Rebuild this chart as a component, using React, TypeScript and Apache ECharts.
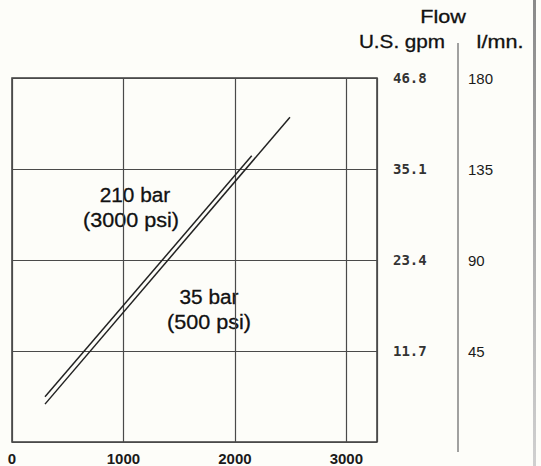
import React, { useEffect, useRef } from "react";
import * as echarts from "echarts";

// Pump speed (rpm) axis ticks
const speedTicks = [0, 1000, 2000, 3000];
const speedMax = 3275;
// Flow axes
const gpmTicks = [0, 11.7, 23.4, 35.1, 46.8];
const lpmTicks = [0, 45, 90, 135, 180];
// Curves [rpm, U.S. gpm]
const curve210 = [
  [296, 5.81],
  [2151, 36.8],
];
const curve35 = [
  [296, 4.87],
  [2494, 41.76],
];
const label210 = ["210 bar", "(3000 psi)"];
const label35 = ["35 bar", "(500 psi)"];
const headers = ["Flow", "U.S. gpm", "l/mn."];

const sans = "'Liberation Sans', Arial, sans-serif";
const mono = "'DejaVu Sans Mono', monospace";

function txt(text: string, x: number, y: number, size: number, sx: number, weight = "normal") {
  return {
    type: "text",
    x,
    y,
    scaleX: sx,
    silent: true,
    style: {
      text,
      x: 0,
      y: 0,
      align: "center",
      verticalAlign: "middle",
      fontSize: size,
      fontFamily: sans,
      fontWeight: weight,
      fill: "#111",
      stroke: "#111",
      lineWidth: 0.3,
    },
  };
}

export default function App() {
  const ref = useRef<HTMLDivElement>(null);
  useEffect(() => {
    document.body.style.margin = "0";
    if (!ref.current) return;
    const chart = echarts.init(ref.current, undefined, { renderer: "svg" });
    const option: any = {
      animation: false,
      backgroundColor: "#fdfdf9",
      grid: {
        show: true,
        left: 12,
        top: 78,
        right: 164,
        bottom: 23,
        borderColor: "#3a3a3a",
        borderWidth: 1.5,
        backgroundColor: "transparent",
      },
      xAxis: {
        type: "value",
        min: speedTicks[0],
        max: speedMax,
        interval: speedTicks[1] - speedTicks[0],
        axisLine: { show: false },
        axisTick: { show: false },
        splitLine: { show: true, lineStyle: { color: "#4a4a4a", width: 1.2 } },
        axisLabel: {
          showMaxLabel: false,
          margin: 9,
          fontSize: 15,
          fontWeight: "bold",
          fontFamily: sans,
          color: "#1a1a1a",
          formatter: (v: number) => (speedTicks.includes(v) ? String(v) : ""),
        },
      },
      yAxis: [
        {
          type: "value",
          position: "right",
          min: gpmTicks[0],
          max: gpmTicks[gpmTicks.length - 1],
          interval: gpmTicks[1],
          axisLine: { show: false },
          axisTick: { show: false },
          splitLine: { show: true, lineStyle: { color: "#4a4a4a", width: 1.2 } },
          axisLabel: {
            margin: 16,
            fontSize: 14,
            fontFamily: mono,
            fontWeight: "bold",
            color: "#333",
            formatter: (v: number) => (v === 0 ? "" : v.toFixed(1)),
          },
        },
        {
          type: "value",
          position: "right",
          min: lpmTicks[0],
          max: lpmTicks[lpmTicks.length - 1],
          interval: lpmTicks[1],
          axisLine: { show: false },
          axisTick: { show: false },
          splitLine: { show: false },
          axisLabel: {
            margin: 91,
            fontSize: 15,
            fontFamily: sans,
            color: "#1a1a1a",
            formatter: (v: number) => (v === 0 ? "" : String(v)),
          },
        },
      ],
      series: [
        {
          name: "210 bar",
          type: "line",
          data: curve210,
          symbol: "none",
          lineStyle: { color: "#222", width: 1.5 },
        },
        {
          name: "35 bar",
          type: "line",
          data: curve35,
          symbol: "none",
          lineStyle: { color: "#222", width: 1.5 },
        },
      ],
      graphic: [
        txt(headers[0], 443, 17, 18, 1.2),
        txt(headers[1], 402, 42, 18, 1.15),
        txt(headers[2], 500, 42, 18, 1.2),
        {
          type: "line",
          silent: true,
          shape: { x1: 458, y1: 43, x2: 458, y2: 452 },
          style: { stroke: "#8a8a8a", lineWidth: 1.6 },
        },
        {
          type: "rect",
          silent: true,
          shape: { x: 533, y: 0, width: 3, height: 466 },
          style: {
            fill: new echarts.graphic.LinearGradient(0, 0, 0, 1, [
              { offset: 0, color: "#8a8a8a" },
              { offset: 1, color: "#d0d0d0" },
            ]),
          },
        },
        txt(label210[0], 135, 195, 20, 1.04),
        txt(label210[1], 131, 220, 20, 1.08),
        txt(label35[0], 209, 297, 20, 1.04),
        txt(label35[1], 209, 322, 20, 1.08),
      ],
    };
    chart.setOption(option);
    return () => chart.dispose();
  }, []);
  return <div ref={ref} style={{ width: 541, height: 466 }} />;
}
